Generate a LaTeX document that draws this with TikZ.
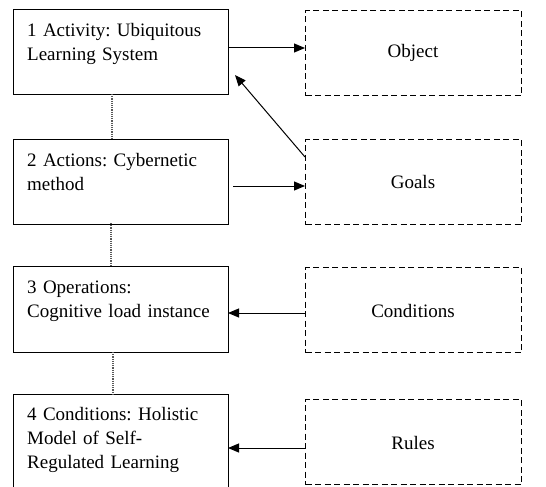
\documentclass[tikz,border=0pt]{standalone}
\usepackage{fontspec}
\setmainfont{Liberation Serif}
\usetikzlibrary{arrows.meta}
\begin{document}
\frenchspacing
\begin{tikzpicture}[x=1pt,y=-1pt,
  lbox/.style={draw,line width=1.3pt,minimum width=215pt,minimum height=85pt,anchor=north west,inner sep=0pt},
  rbox/.style={draw,line width=1.3pt,dash pattern=on 6pt off 3.5pt,minimum width=216pt,minimum height=85pt,anchor=north west,inner sep=0pt},
  ltext/.style={anchor=north west,align=left,inner sep=0pt,font=\fontsize{19}{24}\selectfont,text width=215pt},
  rtext/.style={font=\fontsize{19}{22}\selectfont,inner sep=0pt},
  dotl/.style={densely dotted,line width=1.2pt,black!65},
  arr/.style={line width=1pt,-{Triangle[length=11pt,width=9pt]}}
]
\useasboundingbox (0,0) rectangle (546,487);
% left boxes
\node[lbox] (b1) at (13,9) {};
\node[lbox] (b2) at (13,139) {};
\node[lbox,minimum height=86pt] (b3) at (13,266) {};
\node[lbox,minimum height=100pt] (b4) at (13,394) {};
\node[ltext] (t1) at (27,23) {1 Activity: Ubiquitous\\Learning System};
\node[ltext] (t2) at (27,153) {2 Actions: Cybernetic\\method};
\node[ltext] (t3) at (27,281) {3 Operations:\\Cognitive load instance};
\node[ltext] (t4) at (27,407) {4 Conditions: Holistic\\Model of Self-\\Regulated Learning};
% right boxes
\node[rbox] (ob) at (305,10) {};
\node[rbox] (go) at (305,139) {};
\node[rbox] (co) at (305,267) {};
\node[rbox] (ru) at (305,399) {};
\node[rtext] (tob) at (413,53) {Object};
\node[rtext] (tgo) at (413,182) {Goals};
\node[rtext] (tco) at (413,311) {Conditions};
\node[rtext] (tru) at (413,443) {Rules};
% dotted links
\draw[dotl] (112,94) -- (112,139);
\draw[dotl] (111,223) -- (111,266);
\draw[dotl] (113,352) -- (113,394);
% arrows
\coordinate (a1s) at (228,48);
\coordinate (a1e) at (305,48);
\draw[arr] (a1s) -- (a1e);
\coordinate (a2s) at (305,157);
\coordinate (a2e) at (235,75);
\draw[arr] (a2s) -- (a2e);
\coordinate (a3s) at (233,186);
\coordinate (a3e) at (305,186);
\draw[arr] (a3s) -- (a3e);
\coordinate (a4s) at (305,313);
\coordinate (a4e) at (228,313);
\draw[arr] (a4s) -- (a4e);
\coordinate (a5s) at (305,448);
\coordinate (a5e) at (228,448);
\draw[arr] (a5s) -- (a5e);
\end{tikzpicture}
\end{document}
